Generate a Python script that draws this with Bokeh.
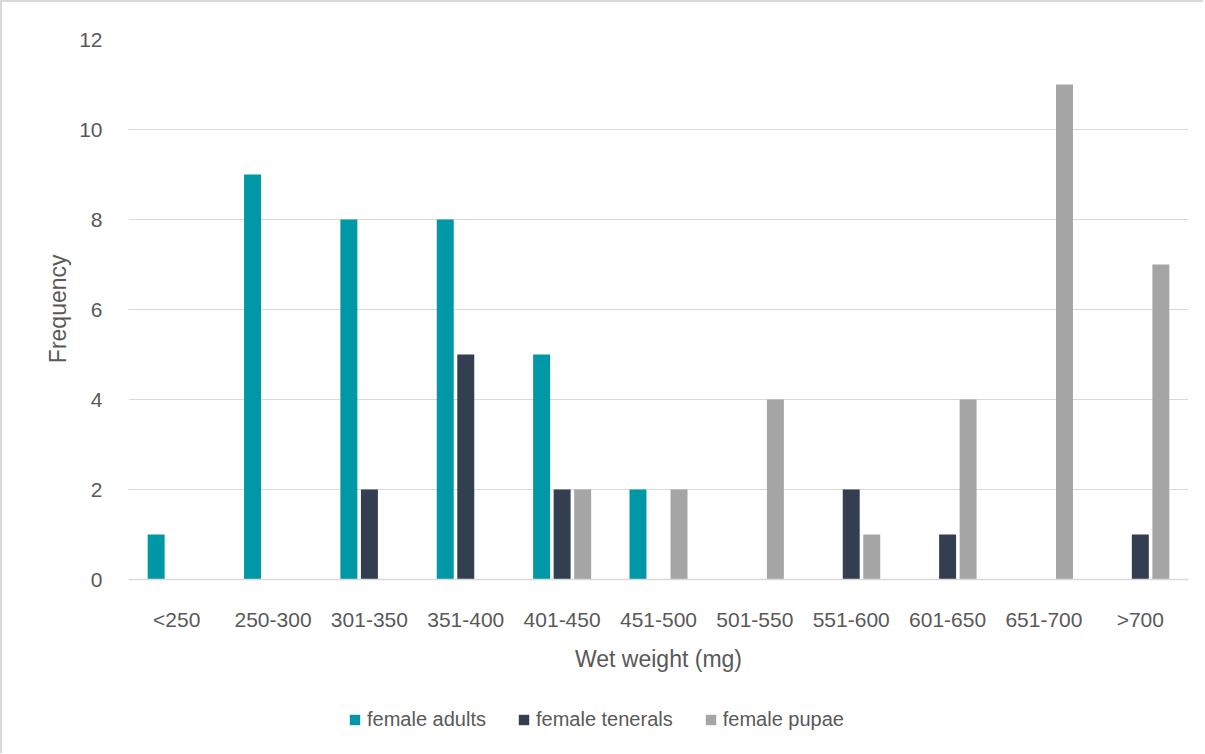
from bokeh.plotting import figure
from bokeh.models import ColumnDataSource, Legend, LegendItem, FixedTicker, Title
from bokeh.transform import dodge
from bokeh.embed import file_html
from bokeh.resources import INLINE

categories = ["<250", "250-300", "301-350", "351-400", "401-450", "451-500",
              "501-550", "551-600", "601-650", "651-700", ">700"]
female_adults = [1, 9, 8, 8, 5, 2, 0, 0, 0, 0, 0]
female_tenerals = [0, 0, 2, 5, 2, 0, 0, 2, 1, 0, 1]
female_pupae = [0, 0, 0, 0, 2, 2, 4, 1, 4, 11, 7]
y_ticks = [0, 2, 4, 6, 8, 10, 12]

series_names = ["female adults", "female tenerals", "female pupae"]
colors = ["#0098A6", "#333F50", "#A5A5A5"]
offsets = [-0.213, 0.0, 0.213]

src = ColumnDataSource(dict(cat=categories, a=female_adults, t=female_tenerals, p=female_pupae))

FONT = "Liberation Sans"
TXT = "#595959"

# frame extends below the zero line so that the legend sits inside it
PX_PER_UNIT = 45.0
EXTRA_PX = 174
p = figure(x_range=categories, y_range=(-EXTRA_PX / PX_PER_UNIT, 12),
           frame_width=1060, frame_height=540 + EXTRA_PX,
           output_backend="svg", toolbar_location=None,
           min_border_left=126, min_border_right=15, min_border_top=37, min_border_bottom=0)
p.styles = {"border-top": "2px solid #D9D9D9", "border-left": "2px solid #D9D9D9"}
p.outline_line_color = None

renderers = []
for key, off, col in zip(["a", "t", "p"], offsets, colors):
    r = p.vbar(x=dodge("cat", off, range=p.x_range), top=key, width=0.176, source=src,
               fill_color=col, line_color=None)
    renderers.append(r)

p.yaxis.ticker = FixedTicker(ticks=y_ticks)
p.xgrid.grid_line_color = None
p.ygrid.grid_line_color = "#D9D9D9"
p.ygrid.grid_line_width = 1

for ax in [p.xaxis[0], p.yaxis[0]]:
    ax.major_tick_line_color = None
    ax.minor_tick_line_color = None
    ax.major_label_text_font = FONT
    ax.major_label_text_font_size = "21px"
    ax.major_label_text_color = TXT
    ax.axis_label_text_font = FONT
    ax.axis_label_text_font_size = "23px"
    ax.axis_label_text_color = TXT
    ax.axis_label_text_font_style = "normal"

p.xaxis.fixed_location = 0
p.yaxis.axis_line_color = None
p.xaxis.axis_line_color = "#D9D9D9"
p.xaxis.axis_line_width = 1.5
p.yaxis.major_label_standoff = 20
p.xaxis.major_label_standoff = 22
p.xaxis.axis_label = "Wet weight (mg)"
p.xaxis.axis_label_standoff = 12

ytitle = Title(text="Frequency", align="right", offset=215, standoff=11,
               text_font=FONT, text_font_size="23px", text_color=TXT, text_font_style="normal")
p.add_layout(ytitle, "left")

legend = Legend(items=[LegendItem(label=n, renderers=[r]) for n, r in zip(series_names, renderers)],
                orientation="horizontal", location=(220, 22))
legend.label_text_font = FONT
legend.label_text_font_size = "20px"
legend.label_text_color = TXT
legend.glyph_width = 13
legend.glyph_height = 13
legend.label_standoff = 6
legend.spacing = 31
legend.border_line_color = None
legend.background_fill_alpha = 0
legend.margin = 0
legend.padding = 0
p.add_layout(legend, "center")

open("out.html", "w").write(file_html(p, INLINE))
